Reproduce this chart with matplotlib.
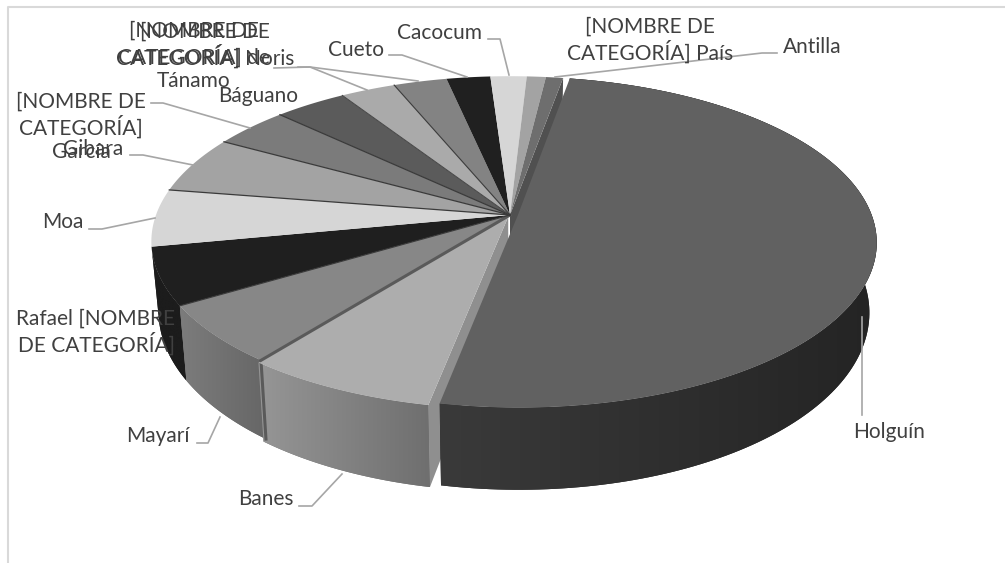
import numpy as np
import matplotlib
matplotlib.use('Agg')
import matplotlib.pyplot as plt
from matplotlib.patches import Polygon

# values (percent of the pie)
labels = ['Holguín', 'Banes', 'Mayarí', 'Rafael [NOMBRE\nDE CATEGORÍA]', 'Moa', 'Gibara',
          '[NOMBRE DE\nCATEGORÍA]\nGarcía', 'Báguano', '[NOMBRE DE\nCATEGORÍA] de\nTánamo',
          '[NOMBRE DE\nCATEGORÍA] Noris', 'Cueto', 'Cacocum', '[NOMBRE DE\nCATEGORÍA] País', 'Antilla']
values = [50.2, 7.5, 5.8, 5.6, 5.6, 5.6, 4.0, 3.8, 2.9, 2.8, 2.3, 1.9, 1.0, 0.9]
explode = [0.022, 0.012, 0, 0, 0, 0, 0, 0, 0, 0, 0, 0, 0, 0]
top_colors = ['#616161', '#adadad', '#878787', '#1f1f1f', '#d6d6d6', '#a3a3a3', '#7b7b7b',
              '#5b5b5b', '#aaaaaa', '#838383', '#202020', '#d6d6d6', '#a3a3a3', '#6e6e6e']
side_left = ['#3a3a3a', '#969696', '#7c7c7c', '#1c1c1c']
side_right = ['#242424', '#6f6f6f', '#666666', '#1c1c1c']
label_x = [889, 266, 158, 96, 63, 93, 81, 258, 194, 205, 356, 439, 650, 812]
label_y = [432, 499, 436, 332, 222, 149, 127, 96, 56, 45, 50, 33, 40, 47]
leaders = [[(862, 415), (862, 317)],
           [(299, 506), (312, 506), (342, 474)],
           [(197, 443), (208, 443), (220, 417)],
           [],
           [(89, 229), (102, 229), (155, 218)],
           [(130, 155), (143, 155), (193, 165)],
           [(151, 103), (163, 103), (250, 128)],
           [],
           [(298, 67), (310, 67), (367, 90)],
           [(274, 68), (310, 67), (418, 81)],
           [(389, 55), (402, 55), (467, 77)],
           [(488, 39), (500, 39), (509, 75)],
           [],
           [(777, 53), (762, 53), (555, 77)]]

start_angle = 80
cx, cy = 510, 215
A, B, k = 354, 161, 0.16


def project(u, v):
    # tilted pie plane with a little perspective
    w = 1 + k * v
    return cx + A * u / w, cy - B * v / w


def lower(x, y):
    # same point on the bottom face of the pie
    return cx + (x - cx) * 0.98, y + 68 + 0.0737 * (y - cy)


fig = plt.figure(figsize=(10.05, 5.63), dpi=100)
ax = fig.add_axes([0, 0, 1, 1])
ax.axis('off')

# chart frame
ax.plot([7.5, 7.5, 1005], [563, 6.5, 6.5], color='#d9d9d9', lw=1.5)

total = sum(values)
edges = start_angle - np.cumsum([0] + values) / total * 360
slices = []
for i in range(len(values)):
    t = np.radians(np.linspace(edges[i], edges[i + 1], 160))
    mid = np.radians((edges[i] + edges[i + 1]) / 2)
    ou, ov = explode[i] * np.cos(mid), explode[i] * np.sin(mid)
    rx, ry = project(np.cos(t) + ou, np.sin(t) + ov)
    ax0, ay0 = project(ou, ov)
    slices.append((rx, ry, ax0, ay0))

# inner walls that show in the gaps next to Holguín
for i, j, color in [(1, 0, '#8f8f8f'), (13, -1, '#505050')]:
    rx, ry, ax0, ay0 = slices[i]
    bx, by = lower(rx[j], ry[j])
    ex, ey = lower(ax0, ay0)
    ax.fill([ax0, rx[j], bx, ex], [ay0, ry[j], by, ey], color=color, lw=0, zorder=2)

# outer sides with a left to right shade, from the left round to the front
for i in [3, 2, 1, 0]:
    rx, ry, ax0, ay0 = slices[i]
    bx, by = lower(rx, ry)
    poly = Polygon(np.c_[np.r_[rx, bx[::-1]], np.r_[ry, by[::-1]]], closed=True,
                   facecolor=side_right[i], edgecolor='none', zorder=3 + (3 - i) * 0.1)
    ax.add_patch(poly)
    c1 = matplotlib.colors.to_rgb(side_left[i])
    c2 = matplotlib.colors.to_rgb(side_right[i])
    shade = np.linspace(0, 1, 256)[None, :, None]
    img = np.array(c1)[None, None, :] + (np.array(c2) - np.array(c1))[None, None, :] * shade
    im = ax.imshow(img, extent=[min(rx.min(), bx.min()), max(rx.max(), bx.max()), by.max(), ry.min()],
                   aspect='auto', zorder=3 + (3 - i) * 0.1 + 0.01)
    im.set_clip_path(poly)

# dark wall between Mayarí and Banes
rx2, ry2, _, _ = slices[2]
bx2, by2 = lower(rx2[0], ry2[0])
ax.plot([rx2[0], bx2], [ry2[0], by2], color='#5a5a5a', lw=2.2, zorder=4)

for i in range(len(values)):
    rx, ry, ax0, ay0 = slices[i]
    ax.fill(np.r_[ax0, rx], np.r_[ay0, ry], facecolor=top_colors[i], edgecolor='none',
            lw=0, zorder=5 + (i == 0))

# thin dark seams between some of the slices
for i, width, color in [(2, 2.2, '#5a5a5a'), (3, 0.8, '#3a3a3a'), (5, 0.9, '#3a3a3a'), (6, 0.9, '#3a3a3a'),
                        (7, 0.9, '#3a3a3a'), (8, 0.7, '#444444'), (9, 0.8, '#3a3a3a')]:
    rx, ry, ax0, ay0 = slices[i]
    ax.plot([ax0, rx[0]], [ay0, ry[0]], color=color, lw=width, zorder=5.5)

# leader lines and labels
for line in leaders:
    if line:
        ax.plot([p[0] for p in line], [p[1] for p in line], color='#a6a6a6', lw=1.2, zorder=7)
for i in range(len(labels)):
    ax.text(label_x[i], label_y[i], labels[i], ha='center', va='center', fontsize=15,
            family='Lato', color='#404040', linespacing=1.2, zorder=8)

ax.set_xlim(0, 1005)
ax.set_ylim(563, 0)
fig.savefig('out.png', dpi=100)
